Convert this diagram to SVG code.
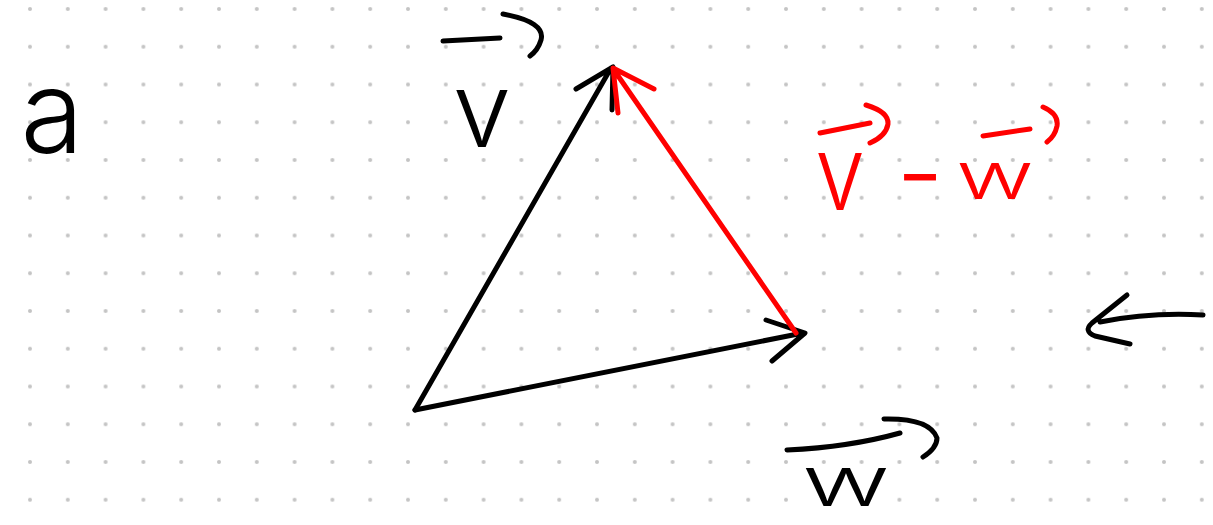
<svg xmlns="http://www.w3.org/2000/svg" width="1213" height="525" viewBox="0 0 1213 525">
<style>
.ink{fill:none;stroke:#000;stroke-width:5;stroke-linecap:round;stroke-linejoin:round}
.red{fill:none;stroke:#ff0000;stroke-width:5;stroke-linecap:round;stroke-linejoin:round}
.hand{font-family:Inter,"Open Sans","Liberation Sans",sans-serif;font-weight:300;text-anchor:middle}
.hk{fill:#000}
.hr{fill:#ff0000}
</style>
<defs>
<pattern id="dots" patternUnits="userSpaceOnUse" x="11.1" y="-9.875" width="37.8" height="37.75">
<circle cx="18.9" cy="18.875" r="2" fill="#c4c4c4"/>
</pattern>
</defs>
<rect width="1213" height="525" fill="#fff"/>
<rect width="1213" height="525" fill="url(#dots)"/>
<g id="label-a">
<text class="hand hk" x="52" y="153" font-size="115">a</text>
</g>
<g id="label-v">
<path class="ink" d="M443,41 L500,38 M503,14 Q546,22 541,40 Q538,50 530,56"/>
<text class="hand hk" x="482" y="147" font-size="105">v</text>
</g>
<g id="label-w">
<path class="ink" d="M787,450 Q850,447 900,433 M884,419 Q930,418 937,438 Q937,448 923,457"/>
<text class="hand hk" transform="translate(846,506) scale(1.55,1)" x="0" y="0" font-size="70">w</text>
</g>
<g id="label-v-minus-w">
<path class="red" d="M820,133 Q845,128 870,123 M866,105 Q889,112 888,124 Q886,136 870,143"/>
<path class="red" d="M983,136 L1030,129 M1043,107 Q1059,114 1057,126 Q1055,136 1047,142"/>
<text class="hand hr" transform="translate(840,210) scale(0.85,1)" x="0" y="0" font-size="105">v</text>
<text class="hand hr" x="920" y="210" font-size="105">-</text>
<text class="hand hr" transform="translate(995,199) scale(1.45,1)" x="0" y="0" font-size="66">w</text>
</g>
<g id="connectors">
<path class="ink" d="M415,410 L611,68 M576,89 L613,67 L612,110"/>
<path class="ink" d="M415,410 L803,333 M766,320 L805,333 L772,361"/>
<path class="red" d="M796,333 L614,70 M618,113 L613,68 L654,89"/>
<path class="ink" d="M1203,315 Q1150,312 1100,322 M1127,295 L1092,323 Q1083,331 1095,336 L1130,344"/>
</g>
</svg>
